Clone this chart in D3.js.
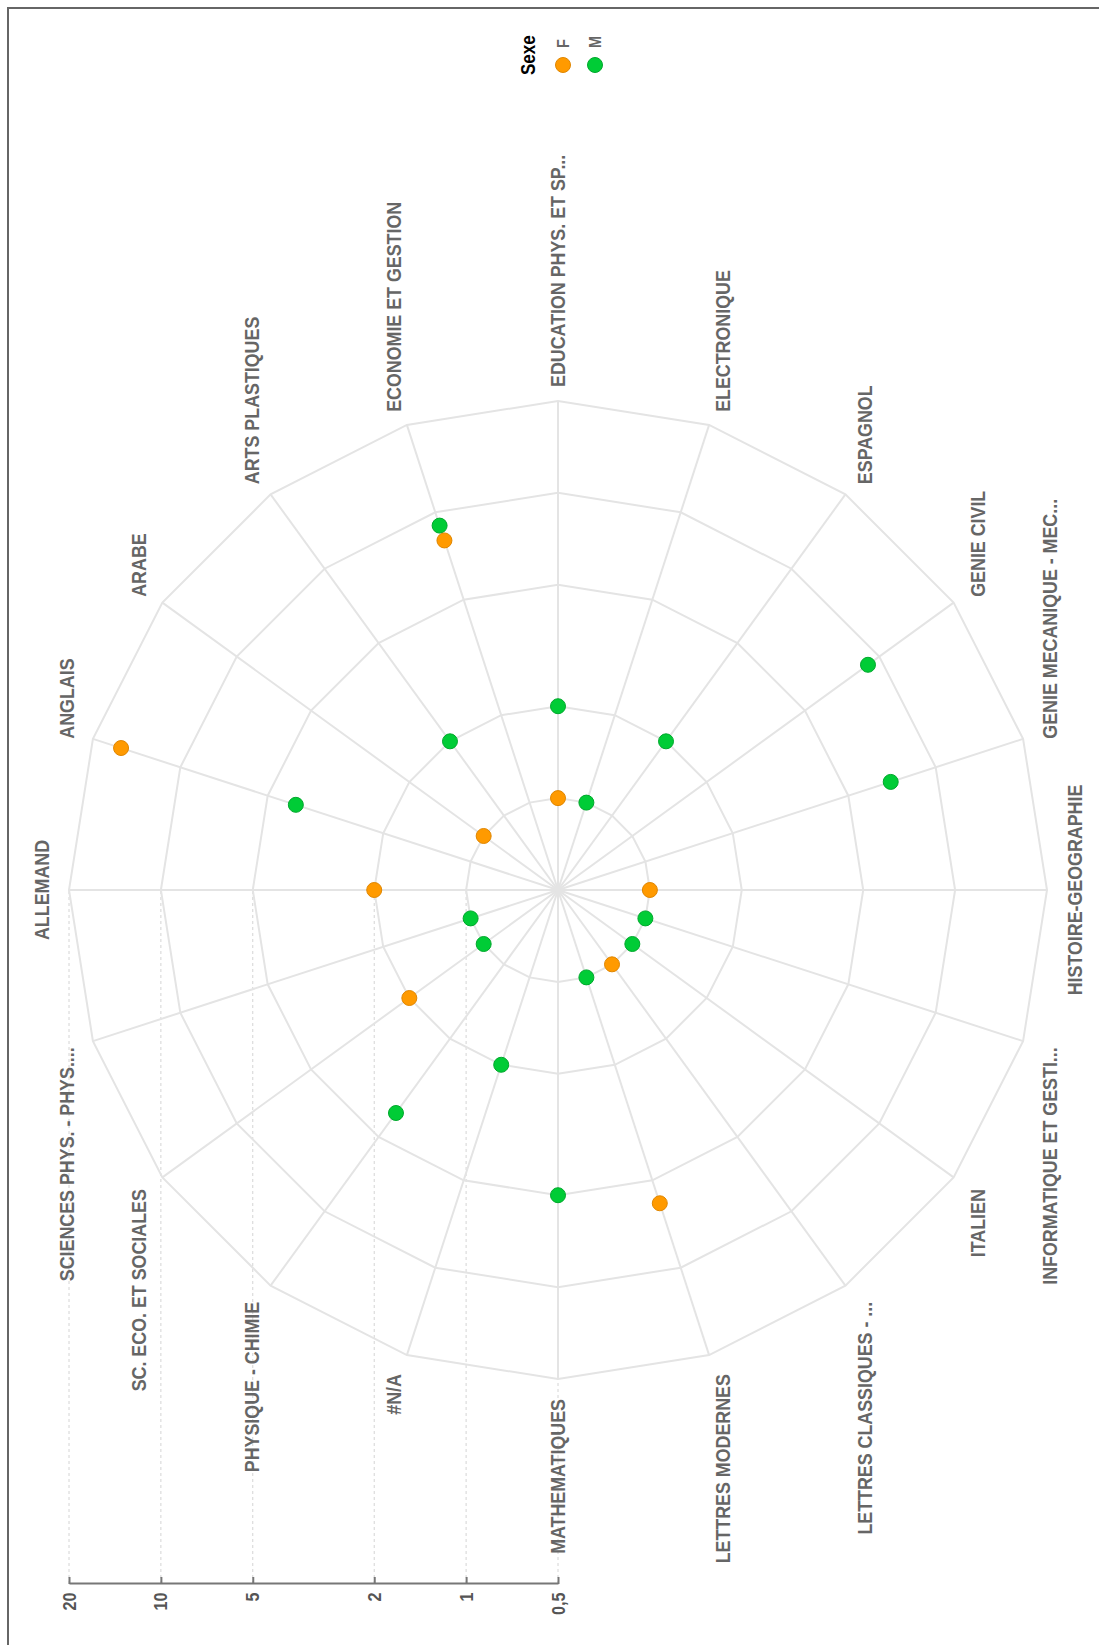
<!DOCTYPE html>
<html>
<head>
<meta charset="utf-8">
<script src="https://cdn.jsdelivr.net/npm/d3@7"></script>
<style>
  body { margin: 0; background: #fff; }
  svg { display: block; font-family: "Liberation Sans", Arial, sans-serif; }
</style>
</head>
<body>
<div id="chart"></div>
<script>
// spokes, in the order the radar goes round
const categories = [
  'ALLEMAND', 'ANGLAIS', 'ARABE', 'ARTS PLASTIQUES', 'ECONOMIE ET GESTION',
  'EDUCATION PHYS. ET SP...', 'ELECTRONIQUE', 'ESPAGNOL', 'GENIE CIVIL',
  'GENIE MECANIQUE - MEC...', 'HISTOIRE-GEOGRAPHIE', 'INFORMATIQUE ET GESTI...',
  'ITALIEN', 'LETTRES CLASSIQUES - ...', 'LETTRES MODERNES', 'MATHEMATIQUES',
  '#N/A', 'PHYSIQUE - CHIMIE', 'SC. ECO. ET SOCIALES', 'SCIENCES  PHYS. - PHYS....'
];

// null = no point for that spoke
const valuesF = [2, 16, 1, null, 8, 1, null, null, null, null, 1, null, null, 1, 6, null, null, null, 2, null];
const valuesM = [null, 4, null, 2, 9, 2, 1, 2, 9, 7, null, 1, 1, null, 1, 5, 2, 4, 1, 1];

const seriesNames = ['F', 'M'];
const seriesColors = {F: '#ff9a00', M: '#00cc36'};
const seriesStrokes = {F: '#e08600', M: '#00a82c'};

const tickValues = [0.5, 1, 2, 5, 10, 20];
const tickLabels = ['0,5', '1', '2', '5', '10', '20'];
const ringValues = [1, 2, 5, 10, 20];

// page size and radar geometry
const width = 1099;
const height = 1645;
const cx = 558;
const cy = 890;
const radius = 489;
const axisOffset = 694;
const labelGap = 20;
// labels use a tall, narrow bold face: draw bigger and squeeze sideways
const squeeze = 0.85;

const svg = d3.select('#chart')
              .append('svg')
              .attr('width', width)
              .attr('height', height);

// frame (cut by the right and bottom edges)
svg.append('path')
   .attr('d', `M8,${height} V8 H${width}`)
   .attr('fill', 'none')
   .attr('stroke', '#666')
   .attr('stroke-width', 2);

// the whole chart is drawn upright and then turned a quarter to the left
const g = svg.append('g')
             .attr('transform', `translate(${cx},${cy}) rotate(-90)`);

const rScale = d3.scaleLog().domain([0.5, 20]).range([0, radius]);
const yAxisScale = d3.scaleLog().domain([0.5, 20]).range([0, -radius]);

const n = categories.length;
const angle = i => i * 2 * Math.PI / n;
const pos = (i, r) => [r * Math.sin(angle(i)), -r * Math.cos(angle(i))];

// dashed guides from the value axis to the centre
g.append('g')
 .selectAll('line')
 .data(tickValues)
 .join('line')
 .attr('x1', -axisOffset)
 .attr('x2', 0)
 .attr('y1', d => yAxisScale(d))
 .attr('y2', d => yAxisScale(d))
 .attr('stroke', '#d4d4d4')
 .attr('stroke-width', 1)
 .attr('stroke-dasharray', '3,3');

// rings
const ringLine = d3.line().curve(d3.curveLinearClosed);
g.append('g')
 .selectAll('path')
 .data(ringValues)
 .join('path')
 .attr('d', v => ringLine(categories.map((c, i) => pos(i, rScale(v)))))
 .attr('fill', 'none')
 .attr('stroke', '#e4e4e4')
 .attr('stroke-width', 2);

// spokes
g.append('g')
 .selectAll('line')
 .data(categories)
 .join('line')
 .attr('x1', 0)
 .attr('y1', 0)
 .attr('x2', (c, i) => pos(i, radius)[0])
 .attr('y2', (c, i) => pos(i, radius)[1])
 .attr('stroke', '#e4e4e4')
 .attr('stroke-width', 2);

// value axis
const axis = g.append('g')
              .attr('transform', `translate(${-axisOffset},0)`)
              .call(
                d3.axisLeft(yAxisScale)
                  .tickValues(tickValues)
                  .tickFormat((d, i) => tickLabels[i])
                  .tickSizeInner(-7)
                  .tickSizeOuter(0)
                  .tickPadding(10)
              );
axis.select('.domain').attr('stroke', '#777').attr('stroke-width', 2);
axis.selectAll('.tick line').attr('stroke', '#777').attr('stroke-width', 2);
axis.selectAll('.tick text')
    .attr('fill', '#555')
    .attr('transform', `scale(${squeeze},1)`)
    .style('font-size', '19px')
    .style('font-weight', 'bold')
    .style('font-family', '"Liberation Sans", Arial, sans-serif');

// spoke labels
g.append('g')
 .selectAll('g')
 .data(categories)
 .join('g')
 .attr('transform', (c, i) => `translate(${pos(i, radius + labelGap)})`)
 .append('text')
 .attr('transform', `scale(${squeeze},1)`)
 .each(function(c, i) {
   const s = Math.sin(angle(i));
   const k = Math.cos(angle(i));
   const anchor = Math.abs(s) < 0.01 ? 'middle' : (s > 0 ? 'start' : 'end');
   d3.select(this)
     .attr('text-anchor', anchor)
     .attr('dx', anchor === 'start' ? -7 : 0)
     .attr('dy', k > 0.01 ? '0' : (k < -0.01 ? '0.72em' : '0.35em'));
 })
 .attr('fill', '#666')
 .style('font-size', '21px')
 .style('font-weight', 'bold')
 .text(d => d);

// points, M first so F sits on top
const series = {F: valuesF, M: valuesM};
['M', 'F'].forEach(name => {
  const pts = series[name]
    .map((v, i) => ({v, i}))
    .filter(d => d.v !== null);
  g.append('g')
   .selectAll('circle')
   .data(pts)
   .join('circle')
   .attr('cx', d => pos(d.i, rScale(d.v))[0])
   .attr('cy', d => pos(d.i, rScale(d.v))[1])
   .attr('r', 7.5)
   .attr('fill', seriesColors[name])
   .attr('stroke', seriesStrokes[name])
   .attr('stroke-width', 1);
});

// legend
const legend = g.append('g').attr('transform', 'translate(815,0)');
legend.append('text')
      .attr('x', 0)
      .attr('y', -23)
      .attr('fill', '#000')
      .attr('transform', `scale(${squeeze},1)`)
      .style('font-size', '20px')
      .style('font-weight', 'bold')
      .text('Sexe');

const items = legend.selectAll('.item')
                    .data(seriesNames)
                    .join('g')
                    .attr('class', 'item')
                    .attr('transform', (d, i) => `translate(10,${5 + i * 32})`);
items.append('circle')
     .attr('r', 7.5)
     .attr('fill', d => seriesColors[d])
     .attr('stroke', d => seriesStrokes[d])
     .attr('stroke-width', 1);
items.append('text')
     .attr('x', 20)
     .attr('dy', '0.35em')
     .attr('fill', '#666')
     .attr('transform', `scale(${squeeze},1)`)
     .style('font-size', '17px')
     .style('font-weight', 'bold')
     .text(d => d);
</script>
</body>
</html>
